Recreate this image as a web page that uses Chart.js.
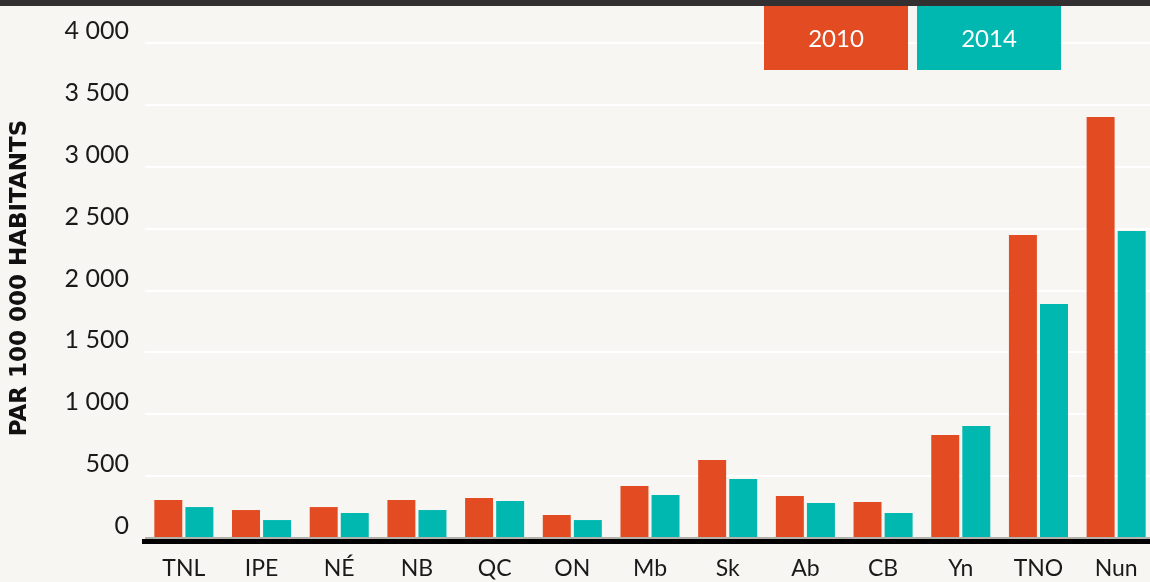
<!DOCTYPE html>
<html>
<head>
<meta charset="utf-8">
<script src="https://cdn.jsdelivr.net/npm/chart.js@4.4.1/dist/chart.umd.min.js"></script>
<style>
  html, body { margin: 0; padding: 0; background: #f7f6f2; overflow: hidden; }
  #wrap { position: relative; width: 1150px; height: 582px; overflow: hidden; }
  #topbar { position: absolute; left: 0; top: 0; width: 1150px; height: 6px; background: #333031; }
  canvas { position: absolute; left: 0; top: 0; }
</style>
</head>
<body>
<div id="wrap">
  <canvas id="chart" width="1155" height="582"></canvas>
  <div id="topbar"></div>
</div>
<script>
// Data
const provinces = ["TNL", "IPE", "NÉ", "NB", "QC", "ON", "Mb", "Sk", "Ab", "CB", "Yn", "TNO", "Nun"];
const years = ["2010", "2014"];
const values2010 = [307, 226, 250, 307, 323, 186, 420, 630, 339, 291, 832, 2448, 3402];
const values2014 = [250, 145, 202, 226, 299, 145, 347, 477, 283, 202, 905, 1891, 2481];
const yTicks = [0, 500, 1000, 1500, 2000, 2500, 3000, 3500, 4000];
const yTitle = "PAR 100 000 HABITANTS";

const orange = "#e34c22";
const teal = "#00b8b0";
const fontFamily = "Lato, 'Open Sans', sans-serif";

// thousands with a space, French style
function frNumber(v) {
  return String(v).replace(/\B(?=(\d{3})+(?!\d))/g, " ");
}

// black base line, the legend boxes and the rotated axis title
const extras = {
  id: "extras",
  afterDatasetsDraw(chart) {
    const ctx = chart.ctx;
    const area = chart.chartArea;
    ctx.save();
    ctx.fillStyle = "#000";
    ctx.fillRect(area.left - 3, area.bottom + 1, chart.width, 5);
    ctx.restore();
  },
  afterDraw(chart) {
    const ctx = chart.ctx;
    const boxes = [{ x: 764, w: 144 }, { x: 917, w: 144 }];
    ctx.save();
    chart.data.datasets.forEach((ds, i) => {
      const b = boxes[i];
      ctx.fillStyle = ds.backgroundColor;
      ctx.fillRect(b.x, 0, b.w, 70);
      ctx.fillStyle = "#ffffff";
      ctx.font = "24px " + fontFamily;
      ctx.textAlign = "center";
      ctx.textBaseline = "middle";
      ctx.fillText(ds.label, b.x + b.w / 2, 39);
    });

    // y title
    ctx.translate(20, 278);
    ctx.rotate(-Math.PI / 2);
    ctx.fillStyle = "#111";
    ctx.font = "bold 23px 'DejaVu Sans', sans-serif";
    ctx.textAlign = "center";
    ctx.textBaseline = "middle";
    ctx.fillText(yTitle, 0, 0);
    ctx.restore();
  }
};

new Chart(document.getElementById("chart"), {
  type: "bar",
  data: {
    labels: provinces,
    datasets: [
      { label: years[0], data: values2010, backgroundColor: orange },
      { label: years[1], data: values2014, backgroundColor: teal }
    ]
  },
  options: {
    responsive: false,
    animation: false,
    devicePixelRatio: 1,
    events: [],
    categoryPercentage: 0.8,
    barPercentage: 0.9,
    layout: { padding: { top: 43, left: 0, right: 0, bottom: 0 } },
    plugins: {
      legend: { display: false },
      tooltip: { enabled: false }
    },
    scales: {
      x: {
        grid: { display: false },
        border: { display: false },
        ticks: {
          color: "#1a1a1a",
          font: { family: fontFamily, size: 23 },
          padding: 9,
          maxRotation: 0
        },
        afterFit(s) { s.height = 44; }
      },
      y: {
        min: 0,
        max: 4000,
        afterBuildTicks(s) { s.ticks = yTicks.map(v => ({ value: v })); },
        grid: {
          color: c => (c.tick && c.tick.value === 0 ? "#b3b1ab" : "#ffffff"),
          lineWidth: 2,
          drawTicks: false
        },
        border: { display: false },
        ticks: {
          color: "#1a1a1a",
          font: { family: fontFamily, size: 25 },
          padding: 16,
          labelOffset: -12,
          callback: v => frNumber(v)
        },
        afterFit(s) { s.width = 145; }
      }
    }
  },
  plugins: [extras]
});
</script>
</body>
</html>
